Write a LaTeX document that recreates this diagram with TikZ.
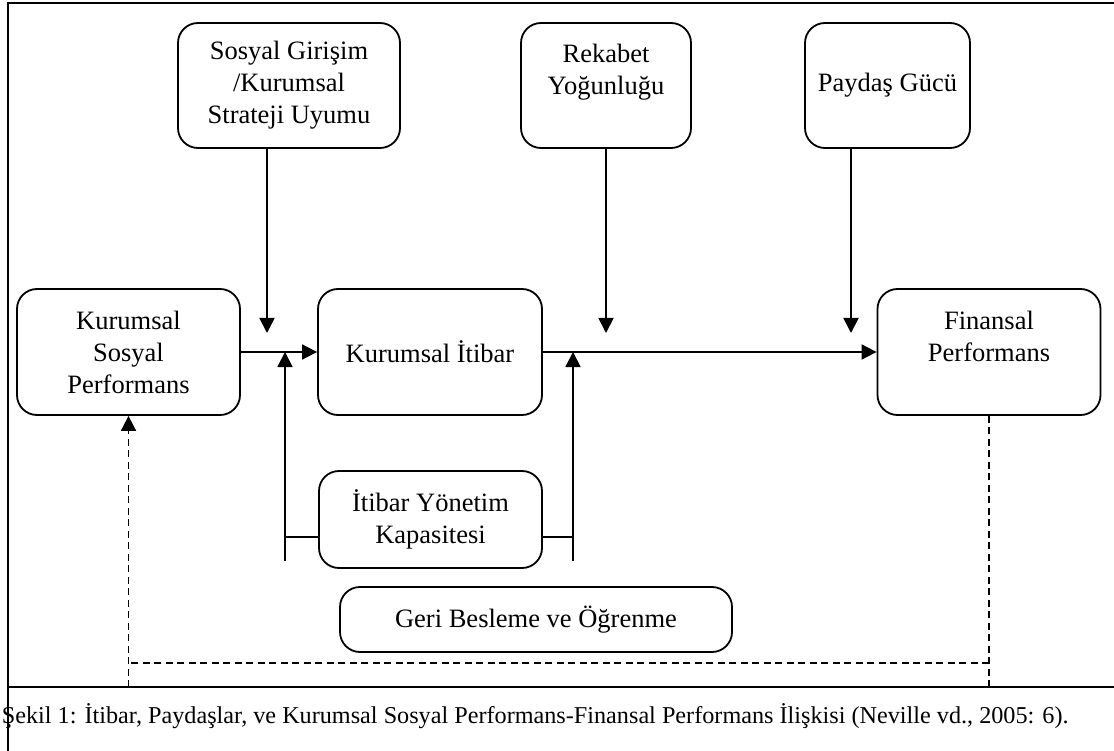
\documentclass[tikz,border=0pt]{standalone}
\usepackage{fontspec}
\setmainfont{Liberation Serif}
\usetikzlibrary{arrows.meta}

\begin{document}
\begin{tikzpicture}[x=1pt,y=-1pt,line width=1.8pt,
    kutu/.style={draw,rounded corners=20pt,align=center,inner sep=0pt,
      font=\fontsize{26.5}{32}\selectfont},
    ok/.style={-{Triangle[length=15pt,width=15pt]}},
    geri/.style={dashed,dash pattern=on 7pt off 4.5pt}]
        \fill[white] (0,0) rectangle (1114,751);
        \useasboundingbox (0,0) rectangle (1114,751);
        % cerceve
        \draw (8,751) -- (8,3) -- (1114,3);
        \draw (8,687) -- (1114,687);
        % kutular
        \node[kutu,minimum width=222pt,minimum height=125pt] (uyum) at (289,85.5) {Sosyal Girişim\\/Kurumsal\\Strateji Uyumu};
        \node[kutu,minimum width=170pt,minimum height=125pt] (rekabet) at (606,85.5) {Rekabet\\Yoğunluğu\\~};
        \node[kutu,minimum width=165pt,minimum height=125pt] (guc) at (887.5,85.5) {Paydaş Gücü};
        \node[kutu,minimum width=223pt,minimum height=126pt] (ksp) at (128.5,352) {Kurumsal\\Sosyal\\Performans};
        \node[kutu,minimum width=224pt,minimum height=126pt] (itibar) at (430,352) {Kurumsal İtibar};
        \node[kutu,minimum width=223pt,minimum height=126pt] (finans) at (989,352) {Finansal\\Performans\\~};
        \node[kutu,minimum width=223pt,minimum height=97pt] (kapasite) at (430.5,519.5) {İtibar Yönetim\\Kapasitesi};
        \node[kutu,minimum width=392pt,minimum height=65pt] (ogrenme) at (536,619.5) {Geri Besleme ve Öğrenme};
        % ok uclari
        \coordinate (u1) at (267,333);
        \coordinate (u2) at (606,333);
        \coordinate (u3) at (851,333);
        \coordinate (a1) at (285,561);
        \coordinate (a2) at (573,561);
        \draw[ok] (uyum.south -| u1) -- (u1);
        \draw[ok] (rekabet.south -| u2) -- (u2);
        \draw[ok] (guc.south -| u3) -- (u3);
        \draw[ok] (ksp.east) -- (itibar.west);
        \draw[ok] (itibar.east) -- (finans.west);
        \draw[ok] (a1) -- (a1 |- itibar.west);
        \draw[ok] (a2) -- (a2 |- itibar.east);
        \draw ([yshift=-17.5pt]kapasite.west) -- ([yshift=-17.5pt]kapasite.west -| a1);
        \draw ([yshift=-17.5pt]kapasite.east) -- ([yshift=-17.5pt]kapasite.east -| a2);
        % geri besleme
        \draw[geri] (finans.south) -- (finans.south |- 0,690);
        \draw[geri] (finans.south |- 0,663) -- (ksp.south |- 0,663);
        \draw[geri,ok] (ksp.south |- 0,687) -- (ksp.south);
        \node[anchor=base west,inner sep=0pt,font=\fontsize{24.2}{30}\selectfont] (yazi) at (1,723)
            {Şekil 1: İtibar, Paydaşlar, ve Kurumsal Sosyal Performans-Finansal Performans İlişkisi (Neville vd., 2005: 6).};
    \end{tikzpicture}
\end{document}
